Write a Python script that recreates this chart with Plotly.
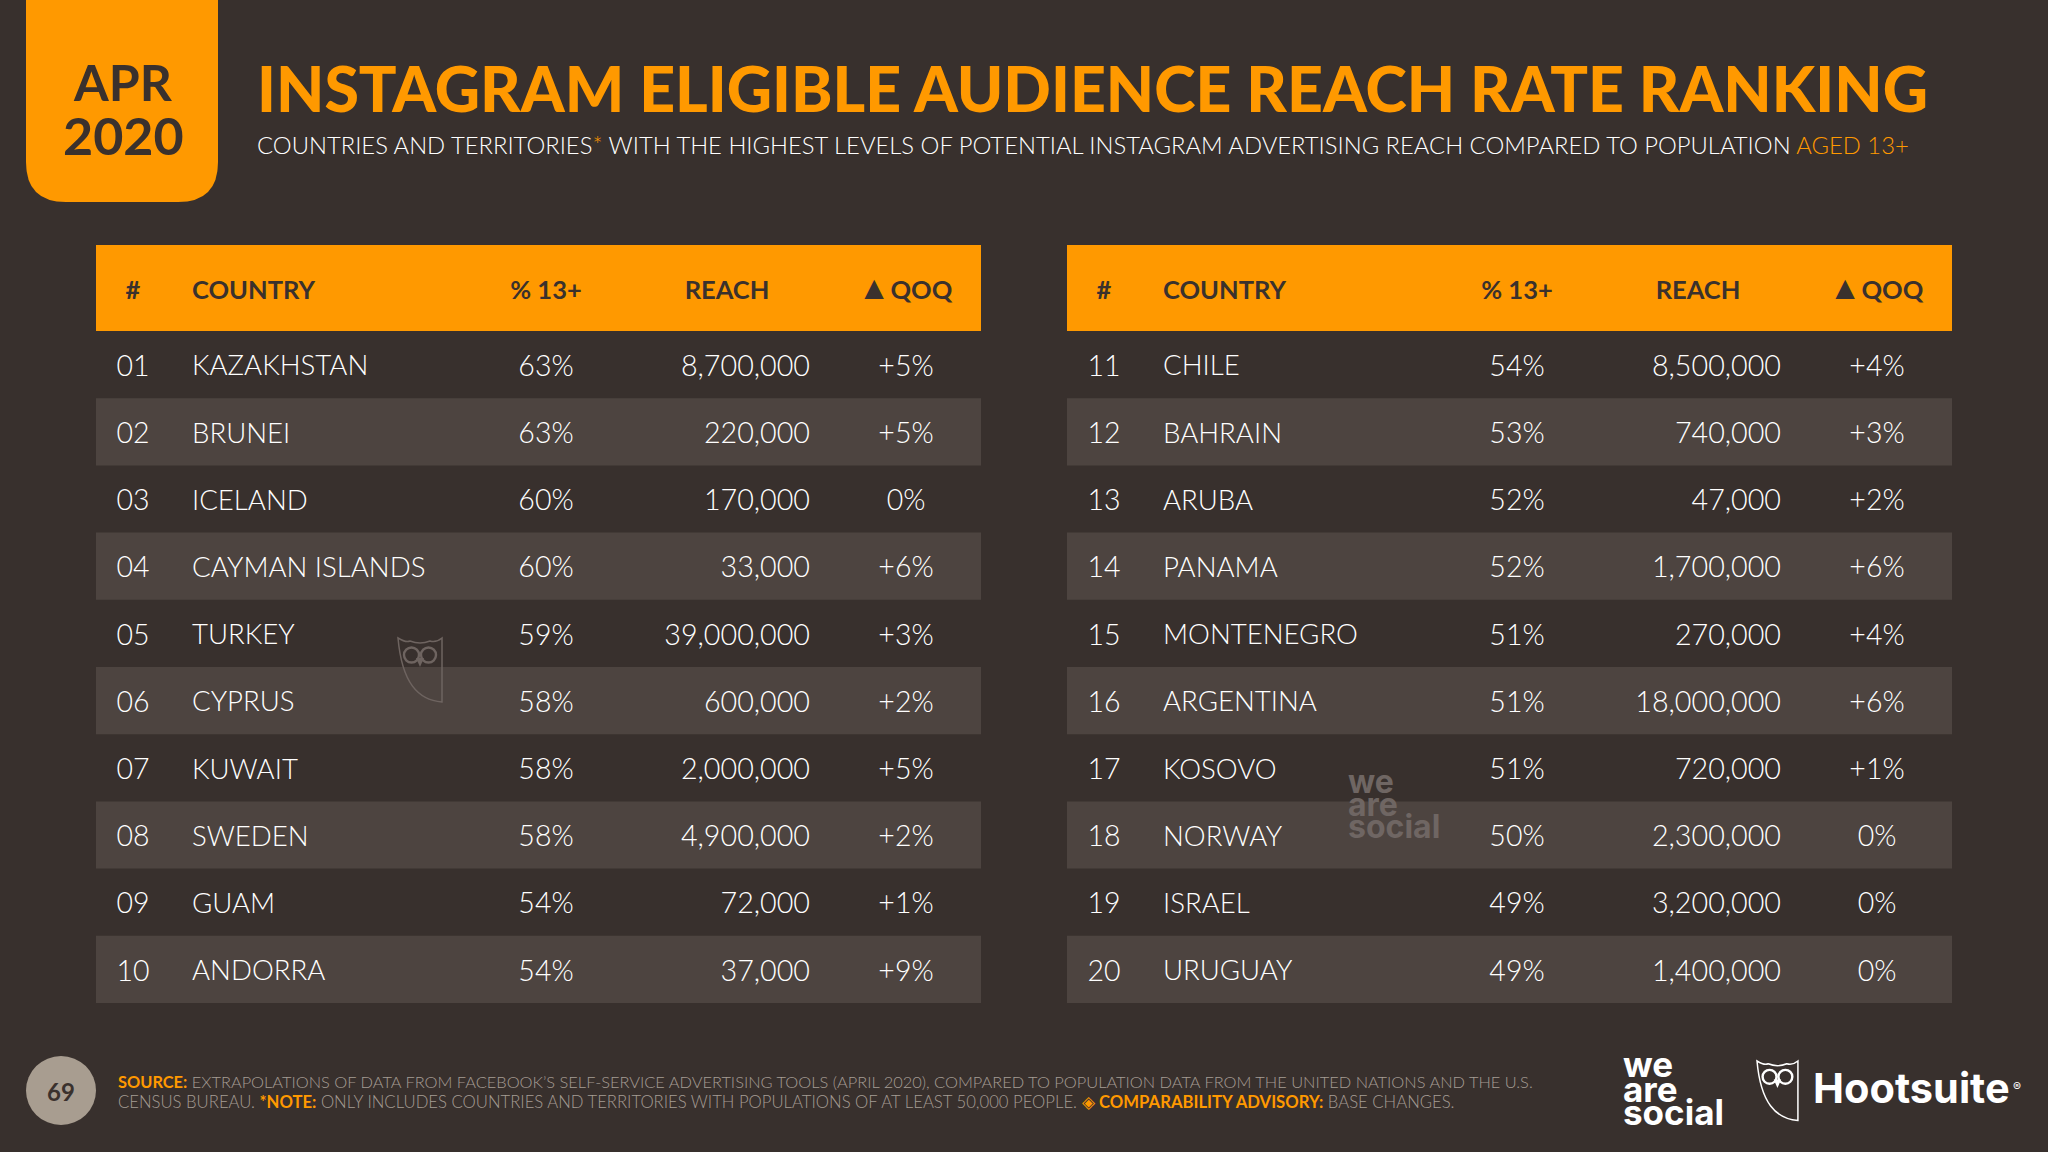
import plotly.graph_objects as go

W = 2048
H = 1152

BG = "#38302d"
STRIPE = "#4d4440"
ORANGE = "#ff9900"
DARK = "#3a312d"
GREY = "#a59c94"
FONT = "Lato"
LOGO = "Inter"

ranks_left = ["01", "02", "03", "04", "05", "06", "07", "08", "09", "10"]
countries_left = ["KAZAKHSTAN", "BRUNEI", "ICELAND", "CAYMAN ISLANDS", "TURKEY",
                  "CYPRUS", "KUWAIT", "SWEDEN", "GUAM", "ANDORRA"]
pct_left = [63, 63, 60, 60, 59, 58, 58, 58, 54, 54]
reach_left = [8700000, 220000, 170000, 33000, 39000000, 600000, 2000000, 4900000, 72000, 37000]
qoq_left = ["+5%", "+5%", "0%", "+6%", "+3%", "+2%", "+5%", "+2%", "+1%", "+9%"]

ranks_right = ["11", "12", "13", "14", "15", "16", "17", "18", "19", "20"]
countries_right = ["CHILE", "BAHRAIN", "ARUBA", "PANAMA", "MONTENEGRO",
                   "ARGENTINA", "KOSOVO", "NORWAY", "ISRAEL", "URUGUAY"]
pct_right = [54, 53, 52, 52, 51, 51, 51, 50, 49, 49]
reach_right = [8500000, 740000, 47000, 1700000, 270000, 18000000, 720000, 2300000, 3200000, 1400000]
qoq_right = ["+4%", "+3%", "+2%", "+6%", "+4%", "+6%", "+1%", "0%", "0%", "0%"]

headers = ["#", "COUNTRY", "% 13+", "REACH", "<span style='font-size:33px'>▲</span>QOQ"]

# layout of the slide, in slide pixels
TABLE_W = 885
ROW_H = 67.2
ROW_TOP = 331
HEAD_H = 86
TEXT_SHIFT = 4  # scatter text sits a little high in its row
row_y = list(range(1, 11))


def px(x):
    return x / W


def py(y):
    return 1 - y / H


def to_row(y):
    return (y - ROW_TOP) / ROW_H + 0.5


def add_table(fig, x0, ranks, countries, pct, reach, qoq):
    # header band and the every-other-row stripes
    fig.add_trace(go.Bar(y=[to_row(ROW_TOP - HEAD_H / 2)], x=[TABLE_W], base=x0, orientation="h",
                         width=HEAD_H / ROW_H, marker=dict(color=ORANGE, line_width=0), hoverinfo="skip"))
    even = row_y[1::2]
    fig.add_trace(go.Bar(y=even, x=[TABLE_W] * len(even), base=x0, orientation="h",
                         width=1, marker=dict(color=STRIPE, line_width=0), hoverinfo="skip"))

    head_y = to_row(ROW_TOP - HEAD_H / 2 + 5)
    head_x = [37, 96, 450, 631, 809]
    head_pos = ["middle center", "middle right", "middle center", "middle center", "middle center"]
    for label, dx, pos in zip(headers, head_x, head_pos):
        fig.add_trace(go.Scatter(x=[x0 + dx], y=[head_y], text=[f"<b>{label}</b>"], mode="text", textposition=pos,
                                 textfont=dict(family=FONT, size=25.5, color=DARK), hoverinfo="skip"))

    cols = [
        (37, ranks, "middle center", 28.5),
        (96, countries, "middle right", 27.6),
        (450, [f"{v}%" for v in pct], "middle center", 28.5),
        (714, [f"{v:,}" for v in reach], "middle left", 28.7),
        (810, qoq, "middle center", 28.5),
    ]
    shifted = [r + TEXT_SHIFT / ROW_H for r in row_y]
    for dx, vals, pos, size in cols:
        fig.add_trace(go.Scatter(x=[x0 + dx] * len(vals), y=shifted, text=vals, mode="text", textposition=pos,
                                 textfont=dict(family=FONT, size=size, color="white", weight=300),
                                 hoverinfo="skip"))


def text(x, y, s, size, color, family=FONT, anchor="left", weight=None):
    return dict(xref="paper", yref="paper", x=px(x), y=py(y), text=s, showarrow=False,
                xanchor=anchor, yanchor="middle",
                font=dict(family=family, size=size, color=color, weight=weight))


def owl(x, y, k, color, lw):
    # owl outline and eyes, x/y is the top left corner
    pts = lambda a, b: f"{px(x + a * k)},{py(y + b * k)}"
    body = (f"M{pts(0, 0)} Q{pts(8, 5)} {pts(12, 3)} Q{pts(22, 7)} {pts(32, 3)} Q{pts(38, 5)} {pts(44, 0)} "
            f"L{pts(44, 64)} C{pts(20, 62)} {pts(4, 45)} {pts(0, 0)} Z")
    beak = f"M{pts(18, 20)} L{pts(26, 20)} L{pts(22, 29)} Z"
    out = [dict(type="path", xref="paper", yref="paper", path=body,
                line=dict(color=color, width=lw), fillcolor="rgba(0,0,0,0)"),
           dict(type="path", xref="paper", yref="paper", path=beak, line_width=0, fillcolor=color)]
    for cx in (13.5, 30.5):
        out.append(dict(type="circle", xref="paper", yref="paper",
                        x0=px(x + (cx - 7.5) * k), x1=px(x + (cx + 7.5) * k),
                        y0=py(y + 9.5 * k), y1=py(y + 24.5 * k),
                        line=dict(color=color, width=lw * 1.6), fillcolor="rgba(0,0,0,0)"))
    return out


fig = go.Figure()
add_table(fig, 96, ranks_left, countries_left, pct_left, reach_left, qoq_left)
add_table(fig, 1067, ranks_right, countries_right, pct_right, reach_right, qoq_right)

shapes = [
    dict(type="path", xref="paper", yref="paper", fillcolor=ORANGE, line_width=0,
         path=(f"M{px(26)},{py(0)} L{px(218)},{py(0)} L{px(218)},{py(162)} "
               f"Q{px(218)},{py(202)} {px(178)},{py(202)} L{px(66)},{py(202)} "
               f"Q{px(26)},{py(202)} {px(26)},{py(162)} Z")),
    dict(type="circle", xref="paper", yref="paper", fillcolor="#a89d90", line_width=0,
         x0=px(26), x1=px(96), y0=py(1125), y1=py(1056)),
]
shapes += owl(398, 638, 1, "#6e6460", 1.5)
shapes += owl(1757, 1061, 0.93, "white", 1.5)

annotations = [
    text(123, 82, "<b>APR</b>", 50, DARK, anchor="center"),
    text(123, 135, "<b>2020</b>", 52, DARK, anchor="center"),
    text(255, 88, "INSTAGRAM ELIGIBLE AUDIENCE REACH RATE RANKING", 62.6, ORANGE, weight=900),
    text(255, 145, "COUNTRIES AND TERRITORIES<span style='color:#ff9900'>*</span> WITH THE HIGHEST LEVELS OF "
                   "POTENTIAL INSTAGRAM ADVERTISING REACH COMPARED TO POPULATION "
                   "<span style='color:#ff9900'>AGED 13+</span>", 23.8, "white", weight=300),
    text(116, 1081, "<span style='color:#ff9900'><b>SOURCE:</b></span> EXTRAPOLATIONS OF DATA FROM FACEBOOK’S "
                    "SELF-SERVICE ADVERTISING TOOLS (APRIL 2020), COMPARED TO POPULATION DATA FROM THE "
                    "UNITED NATIONS AND THE U.S.", 16.4, GREY, weight=300),
    text(116, 1102, "CENSUS BUREAU. <span style='color:#ff9900'><b>*NOTE:</b></span> ONLY INCLUDES COUNTRIES AND "
                    "TERRITORIES WITH POPULATIONS OF AT LEAST 50,000 PEOPLE. "
                    "<span style='color:#ff9900'>◈ <b>COMPARABILITY ADVISORY:</b></span> BASE CHANGES.",
         16.7, GREY, weight=300),
    text(61, 1091, "<b>69</b>", 24, DARK, anchor="center"),
    # logos
    text(1621, 1064, "<b>we</b>", 35, "white", LOGO),
    text(1621, 1089, "<b>are</b>", 35, "white", LOGO),
    text(1621, 1112, "<b>social</b>", 35, "white", LOGO),
    text(1811, 1088, "<b>Hootsuite</b>", 41.5, "white", LOGO),
    text(2011, 1086, "®", 12, "white", LOGO),
    # watermark
    text(1346, 781, "<b>we</b>", 32, "#6f6663", LOGO),
    text(1346, 804, "<b>are</b>", 32, "#6f6663", LOGO),
    text(1346, 826, "<b>social</b>", 32, "#6f6663", LOGO),
]

fig.update_layout(
    width=W, height=H,
    margin=dict(l=0, r=0, t=0, b=0),
    paper_bgcolor=BG,
    plot_bgcolor=BG,
    showlegend=False,
    barmode="overlay",
    shapes=shapes,
    annotations=annotations,
    xaxis=dict(range=[0, W], visible=False, fixedrange=True),
    yaxis=dict(range=[to_row(H), to_row(0)], visible=False, fixedrange=True),
)

fig.write_html("out.html", config=dict(displayModeBar=False),
               post_script="document.body.style.margin='0';document.body.style.background='#38302d';")
